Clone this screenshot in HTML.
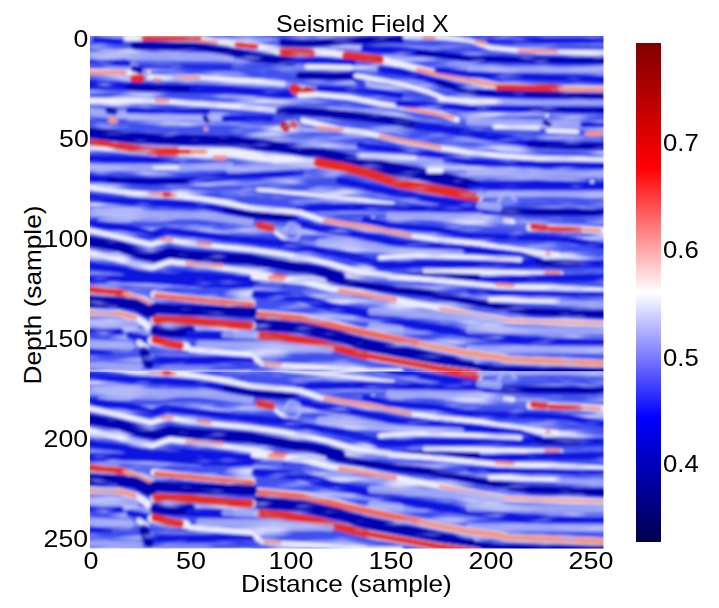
<!DOCTYPE html>
<html><head><meta charset="utf-8"><style>
html,body{margin:0;padding:0;background:#fff;}
body{width:719px;height:608px;position:relative;overflow:hidden;font-family:"Liberation Sans",sans-serif;color:#000;}
.t{position:absolute;white-space:nowrap;font-size:24px;line-height:24px;}
.yt{position:absolute;right:630.5px;white-space:nowrap;font-size:24px;line-height:24px;text-align:right;transform:scaleX(1.11);transform-origin:100% 50%;}
.xt{position:absolute;width:80px;margin-left:-40px;text-align:center;font-size:24px;line-height:24px;top:548.5px;transform:scaleX(1.12);}
.ct{position:absolute;left:663px;font-size:24px;line-height:24px;transform:scaleX(1.07);transform-origin:0 50%;}
</style></head><body>
<div class="t" id="title" style="left:276px;top:11.5px;transform:scaleX(1.045);transform-origin:0 0;">Seismic Field X</div>
<div class="t" id="ylab" style="left:33px;top:295px;transform:translate(-50%,-50%) rotate(-90deg) scaleX(1.09);">Depth (sample)</div>
<div class="t" id="xlab" style="left:241px;top:572px;transform:scaleX(1.09);transform-origin:0 0;">Distance (sample)</div>
<div class="yt" style="top:27px">0</div>
<div class="yt" style="top:127px">50</div>
<div class="yt" style="top:227px">100</div>
<div class="yt" style="top:327px">150</div>
<div class="yt" style="top:427px">200</div>
<div class="yt" style="top:527px">250</div>
<div class="xt" style="left:91px">0</div>
<div class="xt" style="left:191px">50</div>
<div class="xt" style="left:291px">100</div>
<div class="xt" style="left:391px">150</div>
<div class="xt" style="left:491px">200</div>
<div class="xt" style="left:591px">250</div>
<div style="position:absolute;left:636px;top:43px;width:25px;height:499px;background:linear-gradient(to bottom,#800000 0%,#ff0000 25%,#ffffff 50%,#0000ff 75%,#00004d 100%);"></div>
<div class="ct" style="top:131px">0.7</div>
<div class="ct" style="top:238px">0.6</div>
<div class="ct" style="top:346px">0.5</div>
<div class="ct" style="top:452px">0.4</div>
<svg style="position:absolute;left:90px;top:36.4px" width="513.5" height="512.4" viewBox="0 0 513.5 512.4">
<defs><filter id="tx" x="-20" y="-20" width="553.5" height="552.4" filterUnits="userSpaceOnUse"><feTurbulence type="fractalNoise" baseFrequency="0.014 0.11" numOctaves="3" seed="7" result="n"/><feColorMatrix in="n" type="matrix" values="0 0 0 0 0.74  0 0 0 0 0.76  0 0 0 0 0.97  3.2 0 0 0 -1.45"/></filter>
<filter id="tx2" x="-20" y="-20" width="553.5" height="552.4" filterUnits="userSpaceOnUse"><feTurbulence type="fractalNoise" baseFrequency="0.03 0.16" numOctaves="2" seed="21" result="n"/><feColorMatrix in="n" type="matrix" values="0 0 0 0 0.42  0 0 0 0 0.46  0 0 0 0 0.93  3 0 0 0 -1.72"/></filter>
<filter id="bl" x="-20" y="-20" width="553.5" height="552.4" filterUnits="userSpaceOnUse"><feGaussianBlur stdDeviation="1.35"/></filter>
<clipPath id="cpt"><rect x="0" y="0" width="513.5" height="335.6"/></clipPath>
<clipPath id="cpb"><rect x="0" y="335.6" width="513.5" height="176.8"/></clipPath></defs>
<g clip-path="url(#cpt)"><g id="main" filter="url(#bl)">
<rect x="-20" y="-20" width="553.5" height="552.4" fill="#4050ee"/>
<rect x="-20" y="-20" width="553.5" height="552.4" filter="url(#tx)"/>
<polyline points="5.0,3.6 30.0,5.6" fill="none" stroke="#0a12e0" stroke-width="6.0" stroke-linecap="round" stroke-linejoin="round" opacity="1"/>
<polyline points="-14.0,18.6 0.0,18.6 35.0,19.6" fill="none" stroke="#b0b6f6" stroke-width="6.0" stroke-linecap="round" stroke-linejoin="round" opacity="0.8"/>
<polyline points="40.0,20.6 140.0,21.6" fill="none" stroke="#b0b6f6" stroke-width="8.0" stroke-linecap="round" stroke-linejoin="round" opacity="0.8"/>
<polyline points="-14.0,26.6 0.0,26.6 38.0,27.6" fill="none" stroke="#0a12e0" stroke-width="6.0" stroke-linecap="round" stroke-linejoin="round" opacity="1"/>
<polyline points="50.0,30.6 140.0,31.6" fill="none" stroke="#0a12e0" stroke-width="5.0" stroke-linecap="round" stroke-linejoin="round" opacity="0.7"/>
<polyline points="37.0,1.6 54.0,1.6 110.0,2.6 127.0,6.6 147.0,8.6 166.0,10.6 184.0,13.6 193.0,16.6 213.0,17.1 224.0,16.1 242.0,17.1 260.0,19.6 280.0,21.6 291.0,23.6 319.0,30.6 348.0,37.6 387.0,45.6 410.0,50.6 450.0,52.6 514.0,53.6 528.0,53.6" fill="none" stroke="#eeeefa" stroke-width="7.0200000000000005" stroke-linecap="round" stroke-linejoin="round" opacity="1"/>
<polyline points="54.0,2.1 109.0,2.6" fill="none" stroke="#e42a20" stroke-width="5.4" stroke-linecap="round" stroke-linejoin="round" opacity="1"/>
<polyline points="111.0,5.6 126.0,6.6" fill="none" stroke="#f29484" stroke-width="4.8" stroke-linecap="round" stroke-linejoin="round" opacity="1"/>
<polyline points="147.0,8.6 166.0,10.6" fill="none" stroke="#e42a20" stroke-width="5.4" stroke-linecap="round" stroke-linejoin="round" opacity="1"/>
<polyline points="193.0,15.6 221.0,17.1" fill="none" stroke="#e42a20" stroke-width="8.100000000000001" stroke-linecap="round" stroke-linejoin="round" opacity="1"/>
<polyline points="256.0,19.6 290.0,23.6" fill="none" stroke="#e42a20" stroke-width="8.100000000000001" stroke-linecap="round" stroke-linejoin="round" opacity="1"/>
<polyline points="328.0,33.6 350.0,38.6 407.0,49.6" fill="none" stroke="#f29484" stroke-width="4.2" stroke-linecap="round" stroke-linejoin="round" opacity="1"/>
<polyline points="409.0,51.6 471.0,53.1" fill="none" stroke="#e42a20" stroke-width="6.75" stroke-linecap="round" stroke-linejoin="round" opacity="1"/>
<polyline points="448.0,52.6 464.0,52.6" fill="none" stroke="#e42a20" stroke-width="8.100000000000001" stroke-linecap="round" stroke-linejoin="round" opacity="1"/>
<polyline points="471.0,53.1 514.0,53.6 528.0,53.6" fill="none" stroke="#f29484" stroke-width="4.8" stroke-linecap="round" stroke-linejoin="round" opacity="1"/>
<polyline points="193.0,6.6 223.0,7.6 250.0,5.6 275.0,4.6 310.0,3.6" fill="none" stroke="#0000b0" stroke-width="8.0" stroke-linecap="round" stroke-linejoin="round" opacity="1"/>
<polyline points="315.0,0.6 357.0,1.6 380.0,4.6 400.0,11.6 430.0,14.6 450.0,15.6 514.0,16.6 528.0,16.6" fill="none" stroke="#eeeefa" stroke-width="4.68" stroke-linecap="round" stroke-linejoin="round" opacity="1"/>
<polyline points="334.0,1.6 344.0,1.6" fill="none" stroke="#f29484" stroke-width="3.5999999999999996" stroke-linecap="round" stroke-linejoin="round" opacity="1"/>
<polyline points="386.0,5.6 396.0,7.6" fill="none" stroke="#f29484" stroke-width="3.5999999999999996" stroke-linecap="round" stroke-linejoin="round" opacity="1"/>
<polyline points="429.0,15.1 467.0,15.1" fill="none" stroke="#f29484" stroke-width="3.5999999999999996" stroke-linecap="round" stroke-linejoin="round" opacity="1"/>
<polyline points="399.0,3.6 450.0,4.6 514.0,4.6 528.0,4.6" fill="none" stroke="#0a12e0" stroke-width="6.0" stroke-linecap="round" stroke-linejoin="round" opacity="1"/>
<polyline points="275.0,12.6 328.0,16.6 357.0,19.6 380.0,22.6 450.0,24.6 514.0,24.6 528.0,24.6" fill="none" stroke="#0a12e0" stroke-width="8.0" stroke-linecap="round" stroke-linejoin="round" opacity="1"/>
<polyline points="328.0,17.6 380.0,22.6 514.0,24.6 528.0,24.6" fill="none" stroke="#0000b0" stroke-width="5.0" stroke-linecap="round" stroke-linejoin="round" opacity="1"/>
<polyline points="380.0,33.6 450.0,33.6 514.0,34.6 528.0,34.6" fill="none" stroke="#b0b6f6" stroke-width="6.0" stroke-linecap="round" stroke-linejoin="round" opacity="0.8"/>
<polyline points="348.0,33.6 380.0,38.6 450.0,41.6 514.0,43.6 528.0,43.6" fill="none" stroke="#0a12e0" stroke-width="7.0" stroke-linecap="round" stroke-linejoin="round" opacity="1"/>
<polyline points="45.0,9.6 80.0,10.6 117.0,11.6 137.0,14.6 164.0,21.6 185.0,23.6 203.0,25.6" fill="none" stroke="#0000b0" stroke-width="9.0" stroke-linecap="round" stroke-linejoin="round" opacity="1"/>
<polyline points="203.0,25.6 230.0,24.6 263.0,26.6" fill="none" stroke="#0a12e0" stroke-width="6.0" stroke-linecap="round" stroke-linejoin="round" opacity="1"/>
<polyline points="291.0,33.6 310.0,35.6 348.0,45.6 380.0,55.6 410.0,58.6 450.0,59.6 514.0,60.6 528.0,60.6" fill="none" stroke="#0a12e0" stroke-width="8.0" stroke-linecap="round" stroke-linejoin="round" opacity="1"/>
<polyline points="348.0,46.6 380.0,55.6 514.0,60.6 528.0,60.6" fill="none" stroke="#0000b0" stroke-width="5.0" stroke-linecap="round" stroke-linejoin="round" opacity="1"/>
<polyline points="-14.0,35.6 0.0,35.6 39.0,36.6 48.0,40.6" fill="none" stroke="#eeeefa" stroke-width="5.46" stroke-linecap="round" stroke-linejoin="round" opacity="1"/>
<polyline points="-12.0,36.6 2.0,36.6 35.0,36.6" fill="none" stroke="#f29484" stroke-width="4.2" stroke-linecap="round" stroke-linejoin="round" opacity="1"/>
<polyline points="44.0,32.6 50.0,34.6" fill="none" stroke="#0000b0" stroke-width="6.0" stroke-linecap="round" stroke-linejoin="round" opacity="1"/>
<circle cx="59.0" cy="35.6" r="1.9500000000000002" fill="#eeeefa" opacity="1"/>
<polyline points="44.0,42.6 51.0,42.6" fill="none" stroke="#e42a20" stroke-width="8.100000000000001" stroke-linecap="round" stroke-linejoin="round" opacity="1"/>
<polyline points="60.0,41.6 110.0,41.6 140.0,43.6 174.0,45.6 193.0,47.6" fill="none" stroke="#eeeefa" stroke-width="5.46" stroke-linecap="round" stroke-linejoin="round" opacity="1"/>
<polyline points="64.0,43.6 70.0,43.6" fill="none" stroke="#f29484" stroke-width="3.5999999999999996" stroke-linecap="round" stroke-linejoin="round" opacity="1"/>
<polyline points="84.0,41.6 109.0,41.6" fill="none" stroke="#f29484" stroke-width="3.5999999999999996" stroke-linecap="round" stroke-linejoin="round" opacity="1"/>
<polyline points="-14.0,48.6 0.0,48.6 39.0,50.6 80.0,52.6 140.0,53.6 174.0,56.6 200.0,58.6" fill="none" stroke="#0a12e0" stroke-width="9.0" stroke-linecap="round" stroke-linejoin="round" opacity="1"/>
<polyline points="39.0,51.6 97.0,52.6" fill="none" stroke="#0000b0" stroke-width="6.0" stroke-linecap="round" stroke-linejoin="round" opacity="1"/>
<polyline points="217.0,30.6 261.0,31.6" fill="none" stroke="#eeeefa" stroke-width="4.68" stroke-linecap="round" stroke-linejoin="round" opacity="1"/>
<polyline points="210.0,39.6 263.0,40.6" fill="none" stroke="#0000b0" stroke-width="8.0" stroke-linecap="round" stroke-linejoin="round" opacity="1"/>
<polyline points="263.0,38.6 272.0,48.6" fill="none" stroke="#0a12e0" stroke-width="8.0" stroke-linecap="round" stroke-linejoin="round" opacity="0.7"/>
<polyline points="266.0,39.6 310.0,47.6 340.0,56.6 355.0,62.6" fill="none" stroke="#eeeefa" stroke-width="4.68" stroke-linecap="round" stroke-linejoin="round" opacity="1"/>
<polyline points="230.0,52.6 270.0,53.6 310.0,59.6" fill="none" stroke="#0a12e0" stroke-width="7.0" stroke-linecap="round" stroke-linejoin="round" opacity="1"/>
<polyline points="206.0,53.6 219.0,55.6" fill="none" stroke="#eeeefa" stroke-width="10.92" stroke-linecap="round" stroke-linejoin="round" opacity="0.7"/>
<polyline points="204.0,52.6 208.0,54.6" fill="none" stroke="#e42a20" stroke-width="9.450000000000001" stroke-linecap="round" stroke-linejoin="round" opacity="1"/>
<polyline points="217.0,55.6 221.0,56.6" fill="none" stroke="#c00808" stroke-width="9.6" stroke-linecap="round" stroke-linejoin="round" opacity="1"/>
<polyline points="-14.0,64.6 0.0,64.6 40.0,64.6 80.0,65.6 120.0,68.6 160.0,71.6 192.0,74.6" fill="none" stroke="#eeeefa" stroke-width="5.46" stroke-linecap="round" stroke-linejoin="round" opacity="1"/>
<polyline points="66.0,64.6 78.0,64.6" fill="none" stroke="#f29484" stroke-width="3.5999999999999996" stroke-linecap="round" stroke-linejoin="round" opacity="1"/>
<polyline points="210.0,59.6 228.0,58.6 260.0,61.6 290.0,67.6 320.0,72.6 350.0,77.6 367.0,83.6" fill="none" stroke="#eeeefa" stroke-width="5.46" stroke-linecap="round" stroke-linejoin="round" opacity="1"/>
<polyline points="315.0,71.6 363.0,81.6" fill="none" stroke="#f29484" stroke-width="3.5999999999999996" stroke-linecap="round" stroke-linejoin="round" opacity="1"/>
<polyline points="350.0,62.6 380.0,64.6 410.0,65.6" fill="none" stroke="#eeeefa" stroke-width="4.68" stroke-linecap="round" stroke-linejoin="round" opacity="1"/>
<polyline points="410.0,65.6 450.0,66.6 514.0,66.6 528.0,66.6" fill="none" stroke="#b0b6f6" stroke-width="6.0" stroke-linecap="round" stroke-linejoin="round" opacity="0.8"/>
<polyline points="309.0,67.6 350.0,69.6 380.0,72.6 450.0,73.6 514.0,74.6 528.0,74.6" fill="none" stroke="#0a12e0" stroke-width="7.0" stroke-linecap="round" stroke-linejoin="round" opacity="1"/>
<polyline points="440.0,73.6 514.0,74.6 528.0,74.6" fill="none" stroke="#0000b0" stroke-width="4.0" stroke-linecap="round" stroke-linejoin="round" opacity="1"/>
<polyline points="380.0,85.6 450.0,87.6 514.0,88.6 528.0,88.6" fill="none" stroke="#b0b6f6" stroke-width="8" stroke-linecap="round" stroke-linejoin="round" opacity="0.8"/>
<polyline points="405.0,90.6 448.0,91.6" fill="none" stroke="#eeeefa" stroke-width="4.68" stroke-linecap="round" stroke-linejoin="round" opacity="1"/>
<polyline points="458.0,94.6 487.0,95.6" fill="none" stroke="#eeeefa" stroke-width="4.68" stroke-linecap="round" stroke-linejoin="round" opacity="1"/>
<circle cx="457.0" cy="79.6" r="1.9500000000000002" fill="#eeeefa" opacity="1"/>
<polyline points="455.0,86.6 459.0,88.6" fill="none" stroke="#0000b0" stroke-width="5.0" stroke-linecap="round" stroke-linejoin="round" opacity="1"/>
<polyline points="493.0,88.6 514.0,88.6 528.0,88.6" fill="none" stroke="#0a12e0" stroke-width="6.0" stroke-linecap="round" stroke-linejoin="round" opacity="1"/>
<polyline points="497.0,97.6 514.0,97.6 528.0,97.6" fill="none" stroke="#f29484" stroke-width="4.8" stroke-linecap="round" stroke-linejoin="round" opacity="1"/>
<polyline points="-14.0,76.6 0.0,76.6 39.0,79.6 136.0,81.6" fill="none" stroke="#b0b6f6" stroke-width="8" stroke-linecap="round" stroke-linejoin="round" opacity="0.8"/>
<polyline points="39.0,74.6 117.0,75.6" fill="none" stroke="#0a12e0" stroke-width="6.0" stroke-linecap="round" stroke-linejoin="round" opacity="1"/>
<polyline points="39.0,82.6 136.0,82.6" fill="none" stroke="#b0b6f6" stroke-width="4.0" stroke-linecap="round" stroke-linejoin="round" opacity="0.8"/>
<polyline points="19.0,74.6 24.0,75.6" fill="none" stroke="#0000b0" stroke-width="7.0" stroke-linecap="round" stroke-linejoin="round" opacity="1"/>
<polyline points="21.0,84.6 25.0,84.6" fill="none" stroke="#f29484" stroke-width="6.0" stroke-linecap="round" stroke-linejoin="round" opacity="1"/>
<polyline points="115.0,81.6 117.0,84.6" fill="none" stroke="#0000b0" stroke-width="5.0" stroke-linecap="round" stroke-linejoin="round" opacity="1"/>
<circle cx="116.0" cy="93.1" r="2.4" fill="#f29484" opacity="1"/>
<polyline points="135.0,82.6 180.0,82.6" fill="none" stroke="#0a12e0" stroke-width="7.0" stroke-linecap="round" stroke-linejoin="round" opacity="1"/>
<polyline points="190.0,74.6 230.0,76.6 270.0,80.6 310.0,85.6 328.0,89.6" fill="none" stroke="#0000b0" stroke-width="9.0" stroke-linecap="round" stroke-linejoin="round" opacity="1"/>
<polyline points="328.0,89.6 360.0,93.6 380.0,97.6 410.0,101.6 450.0,108.6 514.0,110.6 528.0,110.6" fill="none" stroke="#0a12e0" stroke-width="9.0" stroke-linecap="round" stroke-linejoin="round" opacity="1"/>
<polyline points="440.0,108.6 514.0,110.6 528.0,110.6" fill="none" stroke="#0000b0" stroke-width="6.0" stroke-linecap="round" stroke-linejoin="round" opacity="1"/>
<polyline points="195.0,90.6 204.0,89.6" fill="none" stroke="#eeeefa" stroke-width="10.92" stroke-linecap="round" stroke-linejoin="round" opacity="0.8"/>
<polyline points="194.0,89.6 196.0,91.6" fill="none" stroke="#c00808" stroke-width="8.4" stroke-linecap="round" stroke-linejoin="round" opacity="1"/>
<polyline points="203.0,88.6 205.0,89.6" fill="none" stroke="#e42a20" stroke-width="6.75" stroke-linecap="round" stroke-linejoin="round" opacity="1"/>
<polyline points="213.0,84.6 252.0,93.6 275.0,96.6 309.0,104.6 348.0,111.6 380.0,116.6 410.0,119.6 450.0,122.6 514.0,123.6 528.0,123.6" fill="none" stroke="#eeeefa" stroke-width="5.46" stroke-linecap="round" stroke-linejoin="round" opacity="1"/>
<polyline points="228.0,91.6 252.0,93.6" fill="none" stroke="#f29484" stroke-width="3.5999999999999996" stroke-linecap="round" stroke-linejoin="round" opacity="1"/>
<polyline points="290.0,100.6 350.0,111.6" fill="none" stroke="#f29484" stroke-width="3.5999999999999996" stroke-linecap="round" stroke-linejoin="round" opacity="1"/>
<polyline points="-14.0,96.6 0.0,96.6 39.0,101.6 78.0,103.6 140.0,104.6 193.0,111.6 232.0,118.6" fill="none" stroke="#0000b0" stroke-width="11.0" stroke-linecap="round" stroke-linejoin="round" opacity="1"/>
<polyline points="232.0,118.6 275.0,127.6 307.0,133.6 340.0,139.6 373.0,147.6 392.0,152.6" fill="none" stroke="#0000b0" stroke-width="13.0" stroke-linecap="round" stroke-linejoin="round" opacity="1"/>
<polyline points="392.0,149.6 450.0,148.6 514.0,149.6 528.0,149.6" fill="none" stroke="#0a12e0" stroke-width="8.0" stroke-linecap="round" stroke-linejoin="round" opacity="1"/>
<polyline points="-14.0,108.6 0.0,108.6 29.0,111.6 68.0,115.6 97.0,115.6 140.0,116.6 193.0,123.6 210.0,125.6 230.0,127.6 250.0,130.6 275.0,136.6 309.0,147.6 358.0,155.6 388.0,161.6" fill="none" stroke="#eeeefa" stroke-width="9.36" stroke-linecap="round" stroke-linejoin="round" opacity="1"/>
<polyline points="-14.0,106.6 0.0,106.6 15.0,107.6 29.0,110.6" fill="none" stroke="#e42a20" stroke-width="6.075" stroke-linecap="round" stroke-linejoin="round" opacity="1"/>
<polyline points="29.0,110.6 50.0,113.6 68.0,115.6 86.0,115.6" fill="none" stroke="#e42a20" stroke-width="8.100000000000001" stroke-linecap="round" stroke-linejoin="round" opacity="1"/>
<polyline points="86.0,115.6 102.0,115.6" fill="none" stroke="#e42a20" stroke-width="5.4" stroke-linecap="round" stroke-linejoin="round" opacity="1"/>
<polyline points="102.0,115.6 115.0,115.6" fill="none" stroke="#f29484" stroke-width="4.8" stroke-linecap="round" stroke-linejoin="round" opacity="1"/>
<polyline points="228.0,126.6 250.0,130.6 275.0,136.6 309.0,147.6 358.0,155.6 386.0,161.6" fill="none" stroke="#e42a20" stroke-width="9.450000000000001" stroke-linecap="round" stroke-linejoin="round" opacity="1"/>
<polyline points="125.0,121.6 135.0,121.6" fill="none" stroke="#f29484" stroke-width="4.8" stroke-linecap="round" stroke-linejoin="round" opacity="1"/>
<polyline points="270.0,109.6 310.0,114.6 350.0,119.6 380.0,126.6 450.0,128.6 514.0,129.6 528.0,129.6" fill="none" stroke="#0a12e0" stroke-width="7.0" stroke-linecap="round" stroke-linejoin="round" opacity="1"/>
<polyline points="270.0,119.6 310.0,121.6 350.0,126.6" fill="none" stroke="#b0b6f6" stroke-width="7.0" stroke-linecap="round" stroke-linejoin="round" opacity="0.8"/>
<polyline points="272.0,119.6 325.0,121.6" fill="none" stroke="#eeeefa" stroke-width="3.9000000000000004" stroke-linecap="round" stroke-linejoin="round" opacity="1"/>
<polyline points="339.0,134.6 351.0,134.6" fill="none" stroke="#eeeefa" stroke-width="5.46" stroke-linecap="round" stroke-linejoin="round" opacity="1"/>
<polyline points="380.0,136.6 450.0,137.6 514.0,138.6 528.0,138.6" fill="none" stroke="#b0b6f6" stroke-width="7.0" stroke-linecap="round" stroke-linejoin="round" opacity="0.8"/>
<circle cx="502.0" cy="145.6" r="1.9500000000000002" fill="#eeeefa" opacity="1"/>
<polyline points="-14.0,122.6 0.0,122.6 50.0,123.6 88.0,124.6" fill="none" stroke="#0a12e0" stroke-width="7.0" stroke-linecap="round" stroke-linejoin="round" opacity="1"/>
<polyline points="-14.0,131.6 0.0,131.6 64.0,131.6 90.0,132.6 140.0,129.6" fill="none" stroke="#b0b6f6" stroke-width="7.0" stroke-linecap="round" stroke-linejoin="round" opacity="0.8"/>
<polyline points="64.0,131.6 88.0,131.6" fill="none" stroke="#eeeefa" stroke-width="3.12" stroke-linecap="round" stroke-linejoin="round" opacity="1"/>
<polyline points="-14.0,142.6 0.0,142.6 60.0,145.6 100.0,144.6 140.0,139.6 193.0,137.6 210.0,135.6" fill="none" stroke="#0a12e0" stroke-width="8.0" stroke-linecap="round" stroke-linejoin="round" opacity="1"/>
<polyline points="19.0,144.6 97.0,145.6" fill="none" stroke="#0000b0" stroke-width="5.0" stroke-linecap="round" stroke-linejoin="round" opacity="1"/>
<polyline points="250.0,144.6 280.0,151.6 309.0,157.6 350.0,164.6 387.0,169.6" fill="none" stroke="#0a12e0" stroke-width="8.0" stroke-linecap="round" stroke-linejoin="round" opacity="1"/>
<polyline points="140.0,133.6 193.0,130.6 220.0,129.6" fill="none" stroke="#b0b6f6" stroke-width="8" stroke-linecap="round" stroke-linejoin="round" opacity="0.8"/>
<polyline points="-14.0,176.6 0.0,176.6 60.0,178.6 110.0,179.6 160.0,185.6" fill="none" stroke="#b0b6f6" stroke-width="8" stroke-linecap="round" stroke-linejoin="round" opacity="0.8"/>
<polyline points="5.0,173.6 50.0,174.6" fill="none" stroke="#b0b6f6" stroke-width="4.0" stroke-linecap="round" stroke-linejoin="round" opacity="0.8"/>
<polyline points="10.0,184.6 40.0,184.6" fill="none" stroke="#b0b6f6" stroke-width="4.0" stroke-linecap="round" stroke-linejoin="round" opacity="0.8"/>
<polyline points="117.0,165.6 140.0,166.6" fill="none" stroke="#b0b6f6" stroke-width="6.0" stroke-linecap="round" stroke-linejoin="round" opacity="0.8"/>
<polyline points="168.0,153.6 213.0,157.6 275.0,164.6 303.0,167.6" fill="none" stroke="#eeeefa" stroke-width="3.9000000000000004" stroke-linecap="round" stroke-linejoin="round" opacity="1"/>
<polyline points="-14.0,162.6 0.0,162.6 30.0,164.6 60.0,166.6 110.0,168.6 137.0,174.6 166.0,179.6 190.0,181.6 205.0,180.6" fill="none" stroke="#0a12e0" stroke-width="8.0" stroke-linecap="round" stroke-linejoin="round" opacity="1"/>
<polyline points="137.0,174.6 166.0,179.6 200.0,181.6" fill="none" stroke="#0000b0" stroke-width="8.0" stroke-linecap="round" stroke-linejoin="round" opacity="1"/>
<polyline points="210.0,172.6 250.0,171.6 275.0,171.6 328.0,172.6 387.0,174.6 413.0,175.6 514.0,176.6 528.0,176.6" fill="none" stroke="#0a12e0" stroke-width="8.0" stroke-linecap="round" stroke-linejoin="round" opacity="1"/>
<polyline points="415.0,175.6 514.0,176.6 528.0,176.6" fill="none" stroke="#0000b0" stroke-width="7.0" stroke-linecap="round" stroke-linejoin="round" opacity="1"/>
<polyline points="-14.0,151.6 0.0,151.6 39.0,156.6 78.0,159.6 110.0,162.6 130.0,165.6 159.0,171.6 190.0,174.6 210.0,176.6 230.0,183.6 252.0,187.6 280.0,191.6 320.0,199.6 348.0,203.6 390.0,207.6 410.0,211.6 440.0,215.6 468.0,218.6" fill="none" stroke="#eeeefa" stroke-width="5.46" stroke-linecap="round" stroke-linejoin="round" opacity="1"/>
<polyline points="60.0,157.6 85.0,159.6" fill="none" stroke="#f29484" stroke-width="3.5999999999999996" stroke-linecap="round" stroke-linejoin="round" opacity="1"/>
<polyline points="235.0,184.6 280.0,191.6 320.0,199.6" fill="none" stroke="#f29484" stroke-width="4.2" stroke-linecap="round" stroke-linejoin="round" opacity="1"/>
<polyline points="75.0,158.6 79.0,158.6" fill="none" stroke="#e42a20" stroke-width="5.4" stroke-linecap="round" stroke-linejoin="round" opacity="1"/>
<circle cx="458.0" cy="217.6" r="2.4" fill="#f29484" opacity="1"/>
<polyline points="300.0,179.6 350.0,180.6 390.0,180.6" fill="none" stroke="#b0b6f6" stroke-width="8" stroke-linecap="round" stroke-linejoin="round" opacity="0.8"/>
<circle cx="283.0" cy="181.6" r="1.56" fill="#eeeefa" opacity="1"/>
<polyline points="275.0,183.6 300.0,189.6 345.0,193.6 390.0,200.6 440.0,201.6 477.0,203.6 514.0,209.6 528.0,209.6" fill="none" stroke="#0a12e0" stroke-width="7.0" stroke-linecap="round" stroke-linejoin="round" opacity="1"/>
<polyline points="390.0,158.6 450.0,157.6 514.0,157.6 528.0,157.6" fill="none" stroke="#b0b6f6" stroke-width="7.0" stroke-linecap="round" stroke-linejoin="round" opacity="0.8"/>
<polyline points="390.0,169.6 408.0,171.6" fill="none" stroke="#b0b6f6" stroke-width="8.0" stroke-linecap="round" stroke-linejoin="round" opacity="0.8"/>
<polyline points="409.0,165.6 413.0,156.6 420.0,156.6 425.0,163.6" fill="none" stroke="#b0b6f6" stroke-width="4.0" stroke-linecap="round" stroke-linejoin="round" opacity="0.8"/>
<polyline points="415.0,184.6 423.0,185.6" fill="none" stroke="#eeeefa" stroke-width="4.68" stroke-linecap="round" stroke-linejoin="round" opacity="1"/>
<polyline points="440.0,191.6 470.0,192.6 514.0,194.6 528.0,194.6" fill="none" stroke="#eeeefa" stroke-width="7.0200000000000005" stroke-linecap="round" stroke-linejoin="round" opacity="1"/>
<polyline points="443.0,190.6 455.0,191.6" fill="none" stroke="#e42a20" stroke-width="6.75" stroke-linecap="round" stroke-linejoin="round" opacity="1"/>
<polyline points="460.0,192.6 490.0,193.6" fill="none" stroke="#e42a20" stroke-width="5.4" stroke-linecap="round" stroke-linejoin="round" opacity="1"/>
<polyline points="492.0,193.6 510.0,194.6" fill="none" stroke="#f29484" stroke-width="3.5999999999999996" stroke-linecap="round" stroke-linejoin="round" opacity="1"/>
<polyline points="210.0,187.6 230.0,192.6 280.0,200.6 310.0,207.6 350.0,210.6 390.0,214.6 430.0,219.6 450.0,225.6" fill="none" stroke="#0a12e0" stroke-width="8.0" stroke-linecap="round" stroke-linejoin="round" opacity="1"/>
<polyline points="170.0,189.6 181.0,191.6" fill="none" stroke="#e42a20" stroke-width="8.100000000000001" stroke-linecap="round" stroke-linejoin="round" opacity="1"/>
<polyline points="186.0,196.6 196.0,203.6" fill="none" stroke="#eeeefa" stroke-width="3.9000000000000004" stroke-linecap="round" stroke-linejoin="round" opacity="1"/>
<polyline points="194.0,194.6 200.0,187.6 208.0,189.6 211.0,196.6 206.0,203.6 198.0,203.6 194.0,198.6" fill="none" stroke="#b0b6f6" stroke-width="4.0" stroke-linecap="round" stroke-linejoin="round" opacity="0.8"/>
<polyline points="230.0,206.6 270.0,208.6 310.0,215.6 370.0,217.6" fill="none" stroke="#b0b6f6" stroke-width="8" stroke-linecap="round" stroke-linejoin="round" opacity="0.8"/>
<polyline points="-14.0,187.6 0.0,187.6 39.0,192.6 61.0,198.6 76.0,194.6 100.0,197.6 159.0,204.6 193.0,207.6 230.0,214.6 260.0,219.6 290.0,229.6 332.0,228.6 390.0,227.6 448.0,227.6 487.0,227.6 514.0,227.6 528.0,227.6" fill="none" stroke="#0a12e0" stroke-width="8.0" stroke-linecap="round" stroke-linejoin="round" opacity="1"/>
<polyline points="448.0,227.6 487.0,227.6" fill="none" stroke="#0000b0" stroke-width="7.0" stroke-linecap="round" stroke-linejoin="round" opacity="1"/>
<polyline points="-14.0,194.6 0.0,194.6 19.0,198.6 61.0,208.6 78.0,203.6 100.0,207.6 160.0,213.6 190.0,217.6 213.0,221.6 240.0,227.6 268.0,235.6 300.0,239.6" fill="none" stroke="#eeeefa" stroke-width="5.46" stroke-linecap="round" stroke-linejoin="round" opacity="1"/>
<polyline points="290.0,221.6 330.0,219.6 390.0,221.6 430.0,223.6" fill="none" stroke="#eeeefa" stroke-width="4.68" stroke-linecap="round" stroke-linejoin="round" opacity="1"/>
<polyline points="335.0,234.6 390.0,235.6 430.0,236.6 471.0,237.6" fill="none" stroke="#eeeefa" stroke-width="4.68" stroke-linecap="round" stroke-linejoin="round" opacity="1"/>
<polyline points="72.0,203.6 82.0,203.6" fill="none" stroke="#f29484" stroke-width="3.5999999999999996" stroke-linecap="round" stroke-linejoin="round" opacity="1"/>
<polyline points="108.0,207.6 120.0,208.6" fill="none" stroke="#f29484" stroke-width="3.5999999999999996" stroke-linecap="round" stroke-linejoin="round" opacity="1"/>
<polyline points="457.0,237.6 468.0,237.6" fill="none" stroke="#f29484" stroke-width="6.0" stroke-linecap="round" stroke-linejoin="round" opacity="1"/>
<polyline points="-14.0,205.6 0.0,205.6 29.0,210.6 62.0,221.6 80.0,216.6 100.0,219.6 159.0,223.6 190.0,228.6 230.0,235.6 250.0,240.6" fill="none" stroke="#0000b0" stroke-width="11.0" stroke-linecap="round" stroke-linejoin="round" opacity="1"/>
<polyline points="330.0,242.6 390.0,244.6 448.0,242.6 514.0,241.6 528.0,241.6" fill="none" stroke="#0a12e0" stroke-width="8.0" stroke-linecap="round" stroke-linejoin="round" opacity="1"/>
<polyline points="-14.0,216.6 0.0,216.6 29.0,223.6 62.0,231.6 80.0,225.6 100.0,227.6 159.0,235.6 190.0,241.6 213.0,244.6" fill="none" stroke="#eeeefa" stroke-width="5.46" stroke-linecap="round" stroke-linejoin="round" opacity="1"/>
<polyline points="97.0,227.6 132.0,229.6" fill="none" stroke="#f29484" stroke-width="3.5999999999999996" stroke-linecap="round" stroke-linejoin="round" opacity="1"/>
<polyline points="184.0,240.6 196.0,241.6" fill="none" stroke="#e42a20" stroke-width="5.4" stroke-linecap="round" stroke-linejoin="round" opacity="1"/>
<polyline points="-14.0,229.6 0.0,229.6 30.0,233.6 62.0,240.6 82.0,237.6 110.0,239.6 150.0,243.6 193.0,247.6" fill="none" stroke="#0a12e0" stroke-width="8.0" stroke-linecap="round" stroke-linejoin="round" opacity="1"/>
<polyline points="-14.0,240.6 0.0,240.6 50.0,244.6 110.0,248.6" fill="none" stroke="#b0b6f6" stroke-width="8.0" stroke-linecap="round" stroke-linejoin="round" opacity="0.8"/>
<polyline points="380.0,151.6 514.0,151.6 528.0,151.6" fill="none" stroke="#0a12e0" stroke-width="6.0" stroke-linecap="round" stroke-linejoin="round" opacity="1"/>
<polyline points="20.0,244.6 60.0,246.6" fill="none" stroke="#b0b6f6" stroke-width="8.0" stroke-linecap="round" stroke-linejoin="round" opacity="0.8"/>
<polyline points="-14.0,242.6 0.0,242.6 60.0,243.6 110.0,247.6 160.0,248.6" fill="none" stroke="#0a12e0" stroke-width="8.0" stroke-linecap="round" stroke-linejoin="round" opacity="1"/>
<polyline points="240.0,242.6 270.0,248.6 310.0,254.6 340.0,257.6 380.0,265.6 410.0,270.6 438.0,275.6 514.0,278.6 528.0,278.6" fill="none" stroke="#0000b0" stroke-width="8.0" stroke-linecap="round" stroke-linejoin="round" opacity="1"/>
<polyline points="315.0,240.6 387.0,241.6" fill="none" stroke="#0000b0" stroke-width="7.0" stroke-linecap="round" stroke-linejoin="round" opacity="1"/>
<polyline points="300.0,240.6 350.0,244.6 410.0,250.6 460.0,251.6 514.0,254.6 528.0,254.6" fill="none" stroke="#eeeefa" stroke-width="5.46" stroke-linecap="round" stroke-linejoin="round" opacity="1"/>
<polyline points="407.0,248.6 423.0,249.6" fill="none" stroke="#f29484" stroke-width="3.5999999999999996" stroke-linecap="round" stroke-linejoin="round" opacity="1"/>
<polyline points="380.0,256.6 450.0,257.6 514.0,258.6 528.0,258.6" fill="none" stroke="#0a12e0" stroke-width="6.0" stroke-linecap="round" stroke-linejoin="round" opacity="1"/>
<polyline points="400.0,263.6 430.0,264.6 468.0,265.6" fill="none" stroke="#eeeefa" stroke-width="4.68" stroke-linecap="round" stroke-linejoin="round" opacity="1"/>
<polyline points="468.0,266.6 514.0,268.6 528.0,268.6" fill="none" stroke="#b0b6f6" stroke-width="6.0" stroke-linecap="round" stroke-linejoin="round" opacity="0.8"/>
<polyline points="164.0,240.6 213.0,245.6 240.0,252.6 270.0,256.6 310.0,264.6 348.0,271.6 380.0,277.6 419.0,284.6 470.0,286.6 514.0,287.6 528.0,287.6" fill="none" stroke="#eeeefa" stroke-width="6.24" stroke-linecap="round" stroke-linejoin="round" opacity="1"/>
<polyline points="180.0,241.6 193.0,242.6" fill="none" stroke="#f29484" stroke-width="4.8" stroke-linecap="round" stroke-linejoin="round" opacity="1"/>
<polyline points="250.0,254.6 305.0,263.6" fill="none" stroke="#f29484" stroke-width="4.8" stroke-linecap="round" stroke-linejoin="round" opacity="1"/>
<polyline points="350.0,272.6 380.0,277.6 419.0,284.6 470.0,286.6 514.0,287.6 528.0,287.6" fill="none" stroke="#f29484" stroke-width="3.0" stroke-linecap="round" stroke-linejoin="round" opacity="1"/>
<polyline points="166.0,258.6 210.0,261.6 240.0,270.6 270.0,276.6 328.0,289.6 380.0,297.6 410.0,301.6 438.0,305.6 514.0,307.6 528.0,307.6" fill="none" stroke="#0a12e0" stroke-width="9.0" stroke-linecap="round" stroke-linejoin="round" opacity="1"/>
<polyline points="282.0,275.6 330.0,277.6 380.0,281.6 410.0,285.6" fill="none" stroke="#b0b6f6" stroke-width="8" stroke-linecap="round" stroke-linejoin="round" opacity="0.8"/>
<polyline points="380.0,293.6 450.0,294.6 514.0,294.6 528.0,294.6" fill="none" stroke="#b0b6f6" stroke-width="8.0" stroke-linecap="round" stroke-linejoin="round" opacity="0.8"/>
<polyline points="380.0,313.6 450.0,313.6 514.0,313.6 528.0,313.6" fill="none" stroke="#b0b6f6" stroke-width="8.0" stroke-linecap="round" stroke-linejoin="round" opacity="0.8"/>
<polyline points="-14.0,253.6 0.0,253.6 23.0,255.6 39.0,259.6 54.0,264.6 60.0,267.6" fill="none" stroke="#eeeefa" stroke-width="7.800000000000001" stroke-linecap="round" stroke-linejoin="round" opacity="1"/>
<polyline points="-14.0,253.6 0.0,253.6 23.0,255.6 35.0,257.6" fill="none" stroke="#e42a20" stroke-width="6.75" stroke-linecap="round" stroke-linejoin="round" opacity="1"/>
<polyline points="35.0,257.6 54.0,264.6 60.0,267.6" fill="none" stroke="#f29484" stroke-width="4.8" stroke-linecap="round" stroke-linejoin="round" opacity="1"/>
<polyline points="64.0,258.6 97.0,262.6 140.0,266.6 162.0,267.6" fill="none" stroke="#eeeefa" stroke-width="7.0200000000000005" stroke-linecap="round" stroke-linejoin="round" opacity="1"/>
<polyline points="66.0,259.6 97.0,262.6 140.0,266.6 162.0,268.6" fill="none" stroke="#ee6658" stroke-width="5.2" stroke-linecap="round" stroke-linejoin="round" opacity="1"/>
<polyline points="168.0,277.6 213.0,281.6 240.0,287.6 252.0,290.6 275.0,296.6 309.0,303.6 348.0,311.6 380.0,317.6 410.0,321.6 419.0,323.6 470.0,325.6 514.0,327.6 528.0,327.6" fill="none" stroke="#eeeefa" stroke-width="7.800000000000001" stroke-linecap="round" stroke-linejoin="round" opacity="1"/>
<polyline points="170.0,278.6 213.0,282.6 240.0,288.6 252.0,291.6 275.0,296.6 309.0,303.6 330.0,307.6" fill="none" stroke="#ee6658" stroke-width="6.5" stroke-linecap="round" stroke-linejoin="round" opacity="1"/>
<polyline points="330.0,307.6 348.0,311.6 380.0,317.6 410.0,321.6 419.0,323.6 470.0,325.6 514.0,327.6 528.0,327.6" fill="none" stroke="#f29484" stroke-width="6.0" stroke-linecap="round" stroke-linejoin="round" opacity="1"/>
<polyline points="-14.0,265.6 0.0,265.6 30.0,266.6 45.0,268.6 55.0,273.6 60.0,277.6" fill="none" stroke="#0000b0" stroke-width="12.0" stroke-linecap="round" stroke-linejoin="round" opacity="1"/>
<polyline points="64.0,272.6 110.0,274.6 162.0,276.6" fill="none" stroke="#0000b0" stroke-width="11.0" stroke-linecap="round" stroke-linejoin="round" opacity="1"/>
<polyline points="168.0,288.6 210.0,291.6 250.0,300.6 275.0,308.6 309.0,315.6 348.0,323.6 380.0,329.6" fill="none" stroke="#0000b0" stroke-width="12.0" stroke-linecap="round" stroke-linejoin="round" opacity="1"/>
<polyline points="380.0,330.6 410.0,333.6 514.0,335.6 528.0,335.6" fill="none" stroke="#0000b0" stroke-width="8.0" stroke-linecap="round" stroke-linejoin="round" opacity="1"/>
<polyline points="-14.0,276.6 0.0,276.6 30.0,277.6 45.0,281.6 55.0,287.6 58.0,290.6" fill="none" stroke="#eeeefa" stroke-width="7.0200000000000005" stroke-linecap="round" stroke-linejoin="round" opacity="1"/>
<polyline points="-14.0,276.6 0.0,276.6 30.0,277.6 45.0,281.6" fill="none" stroke="#f29484" stroke-width="4.8" stroke-linecap="round" stroke-linejoin="round" opacity="1"/>
<polyline points="64.0,284.6 100.0,284.6 140.0,288.6 162.0,289.6" fill="none" stroke="#eeeefa" stroke-width="7.800000000000001" stroke-linecap="round" stroke-linejoin="round" opacity="1"/>
<polyline points="66.0,283.6 100.0,284.6 140.0,288.6 160.0,289.6" fill="none" stroke="#e42a20" stroke-width="8.100000000000001" stroke-linecap="round" stroke-linejoin="round" opacity="1"/>
<polyline points="168.0,299.6 195.0,301.6 230.0,307.6 275.0,319.6 309.0,325.6 348.0,332.6 387.0,337.6" fill="none" stroke="#eeeefa" stroke-width="7.800000000000001" stroke-linecap="round" stroke-linejoin="round" opacity="1"/>
<polyline points="170.0,299.6 195.0,301.6 230.0,307.6 275.0,319.6" fill="none" stroke="#e42a20" stroke-width="8.100000000000001" stroke-linecap="round" stroke-linejoin="round" opacity="1"/>
<polyline points="275.0,319.6 309.0,325.6 348.0,332.6 387.0,337.6" fill="none" stroke="#e42a20" stroke-width="6.075" stroke-linecap="round" stroke-linejoin="round" opacity="1"/>
<polyline points="-14.0,287.6 0.0,287.6 45.0,288.6" fill="none" stroke="#b0b6f6" stroke-width="8.0" stroke-linecap="round" stroke-linejoin="round" opacity="0.8"/>
<polyline points="-14.0,295.6 0.0,295.6 30.0,295.6" fill="none" stroke="#0a12e0" stroke-width="7.0" stroke-linecap="round" stroke-linejoin="round" opacity="1"/>
<polyline points="40.0,299.6 56.0,302.6" fill="none" stroke="#0a12e0" stroke-width="7.0" stroke-linecap="round" stroke-linejoin="round" opacity="1"/>
<polyline points="66.0,294.6 85.0,295.6 100.0,295.6" fill="none" stroke="#0000b0" stroke-width="12.0" stroke-linecap="round" stroke-linejoin="round" opacity="1"/>
<polyline points="62.0,304.6 78.0,307.6 96.0,310.6" fill="none" stroke="#eeeefa" stroke-width="8.58" stroke-linecap="round" stroke-linejoin="round" opacity="1"/>
<polyline points="65.0,303.6 78.0,307.6 90.0,309.6" fill="none" stroke="#e42a20" stroke-width="8.100000000000001" stroke-linecap="round" stroke-linejoin="round" opacity="1"/>
<polyline points="49.0,306.6 56.0,311.6" fill="none" stroke="#eeeefa" stroke-width="5.46" stroke-linecap="round" stroke-linejoin="round" opacity="1"/>
<polyline points="-14.0,307.6 0.0,307.6 40.0,309.6" fill="none" stroke="#b0b6f6" stroke-width="8" stroke-linecap="round" stroke-linejoin="round" opacity="0.8"/>
<polyline points="-14.0,315.6 0.0,315.6 20.0,316.6" fill="none" stroke="#0a12e0" stroke-width="5.0" stroke-linecap="round" stroke-linejoin="round" opacity="1"/>
<polyline points="54.0,315.6 56.0,321.6 59.0,328.6" fill="none" stroke="#0000b0" stroke-width="10.0" stroke-linecap="round" stroke-linejoin="round" opacity="1"/>
<polyline points="100.0,298.6 140.0,299.6" fill="none" stroke="#0a12e0" stroke-width="9.0" stroke-linecap="round" stroke-linejoin="round" opacity="1"/>
<polyline points="135.0,298.6 166.0,299.6" fill="none" stroke="#b0b6f6" stroke-width="7.0" stroke-linecap="round" stroke-linejoin="round" opacity="0.8"/>
<polyline points="110.0,308.6 170.0,309.6 240.0,313.6" fill="none" stroke="#b0b6f6" stroke-width="8" stroke-linecap="round" stroke-linejoin="round" opacity="0.8"/>
<polyline points="100.0,313.6 160.0,318.6 172.0,327.6 193.0,329.6 230.0,331.6 275.0,334.6" fill="none" stroke="#eeeefa" stroke-width="5.46" stroke-linecap="round" stroke-linejoin="round" opacity="1"/>
<polyline points="175.0,327.6 190.0,328.6" fill="none" stroke="#f29484" stroke-width="3.5999999999999996" stroke-linecap="round" stroke-linejoin="round" opacity="1"/>
<polyline points="65.0,323.6 110.0,324.6 160.0,325.6" fill="none" stroke="#0a12e0" stroke-width="9.0" stroke-linecap="round" stroke-linejoin="round" opacity="1"/>
<polyline points="-14.0,329.6 0.0,329.6 50.0,330.6" fill="none" stroke="#b0b6f6" stroke-width="6.0" stroke-linecap="round" stroke-linejoin="round" opacity="0.8"/>
<polyline points="282.0,290.6 310.0,293.6" fill="none" stroke="#b0b6f6" stroke-width="8" stroke-linecap="round" stroke-linejoin="round" opacity="0.8"/>
<polyline points="272.0,335.6 310.0,335.6" fill="none" stroke="#eeeefa" stroke-width="6.24" stroke-linecap="round" stroke-linejoin="round" opacity="1"/>
<polyline points="-14.0,336.1 0.0,336.1 160.0,336.1" fill="none" stroke="#eeeefa" stroke-width="2.34" stroke-linecap="round" stroke-linejoin="round" opacity="1"/>
<polyline points="74.0,336.6 78.0,336.6" fill="none" stroke="#f29484" stroke-width="4.8" stroke-linecap="round" stroke-linejoin="round" opacity="1"/>
<rect x="-20" y="-20" width="553.5" height="552.4" filter="url(#tx2)"/>
</g></g>
<g clip-path="url(#cpb)"><use href="#main" transform="translate(0,178)"/></g>

</svg>
</body></html>
